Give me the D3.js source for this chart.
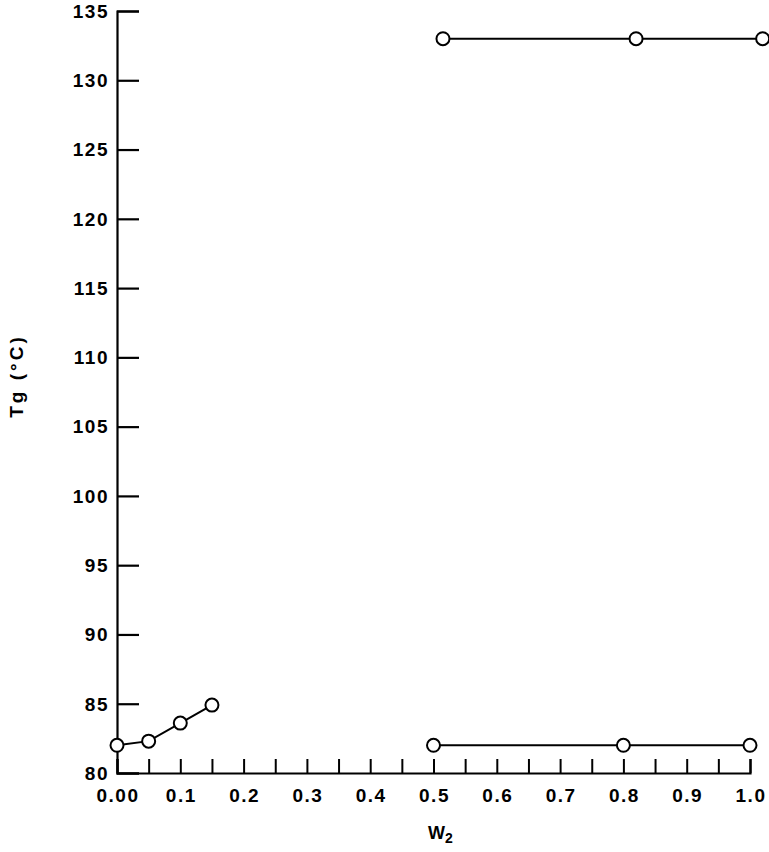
<html>
<head>
<meta charset="utf-8"/>
<script src="https://cdn.jsdelivr.net/npm/d3@7"></script>
<style>
  body{margin:0;background:#fff;}
  text{font-family:"Liberation Sans", Arial, sans-serif;font-weight:bold;fill:#000;}
</style>
</head>
<body>
<svg id="chart" width="769" height="852"></svg>
<script>
// data
var lowW = [0.00, 0.05, 0.10, 0.15];
var lowTg = [82.0, 82.3, 83.6, 84.9];
var rightLowW = [0.50, 0.80, 1.00];
var rightLowTg = [82.0, 82.0, 82.0];
var rightHighW = [0.515, 0.82, 1.02];
var rightHighTg = [133.0, 133.0, 133.0];
var yTicks = [80, 85, 90, 95, 100, 105, 110, 115, 120, 125, 130, 135];
var xMajor = [0.0, 0.1, 0.2, 0.3, 0.4, 0.5, 0.6, 0.7, 0.8, 0.9, 1.0];
var xLabels = ["0.00", "0.1", "0.2", "0.3", "0.4", "0.5", "0.6", "0.7", "0.8", "0.9", "1.0"];
var xMinor = d3.range(0, 21).map(function(i){ return i * 0.05; });

var svg = d3.select("#chart");
var x = d3.scaleLinear().domain([0, 1]).range([117, 750]);
var y = d3.scaleLinear().domain([80, 135]).range([773, 11]);

// y axis, ticks pointing inward
var yAxis = d3.axisRight(y).tickValues(yTicks).tickSize(22).tickFormat("");
var gy = svg.append("g").attr("transform", "translate(" + x(0) + ",0)").call(yAxis);
gy.select(".domain").attr("stroke", "#000").attr("stroke-width", 2.2);
gy.selectAll(".tick line").attr("stroke", "#000").attr("stroke-width", 2.2);

svg.append("g").selectAll("text").data(yTicks).enter().append("text")
  .attr("x", 109).attr("y", function(d){ return y(d); })
  .attr("dy", "0.36em").attr("text-anchor", "end")
  .style("font-size", "19px").style("letter-spacing", "1.5px")
  .text(function(d){ return d; });

// x axis, ticks pointing up
var xAxis = d3.axisTop(x).tickValues(xMinor).tickSize(14).tickFormat("");
var gx = svg.append("g").attr("transform", "translate(0," + y(80) + ")").call(xAxis);
gx.select(".domain").attr("stroke", "#000").attr("stroke-width", 2.2);
gx.selectAll(".tick line").attr("stroke", "#000").attr("stroke-width", 2);

svg.append("g").selectAll("text").data(xMajor).enter().append("text")
  .attr("x", function(d){ return x(d) + 1; }).attr("y", 802)
  .attr("text-anchor", "middle")
  .style("font-size", "19px").style("letter-spacing", "1.5px")
  .text(function(d, i){ return xLabels[i]; });

// axis titles
svg.append("text").attr("transform", "translate(23,376) rotate(-90)")
  .attr("text-anchor", "middle").style("font-size", "19px").style("letter-spacing", "3px")
  .text("Tg (°C)");
var wt = svg.append("text").attr("x", 428).attr("y", 839).style("font-size", "18px");
wt.append("tspan").text("W");
wt.append("tspan").attr("dy", 4).style("font-size", "14px").text("2");

// series
var series = [
  d3.zip(lowW, lowTg),
  d3.zip(rightLowW, rightLowTg),
  d3.zip(rightHighW, rightHighTg)
];
var line = d3.line().x(function(d){ return x(d[0]); }).y(function(d){ return y(d[1]); });

series.forEach(function(s){
  svg.append("path").datum(s).attr("d", line)
    .attr("fill", "none").attr("stroke", "#000").attr("stroke-width", 2);
  svg.append("g").selectAll("circle").data(s).enter().append("circle")
    .attr("cx", function(d){ return x(d[0]); })
    .attr("cy", function(d){ return y(d[1]); })
    .attr("r", 6.5).attr("fill", "#fff").attr("stroke", "#000").attr("stroke-width", 2);
});
</script>
</body>
</html>
